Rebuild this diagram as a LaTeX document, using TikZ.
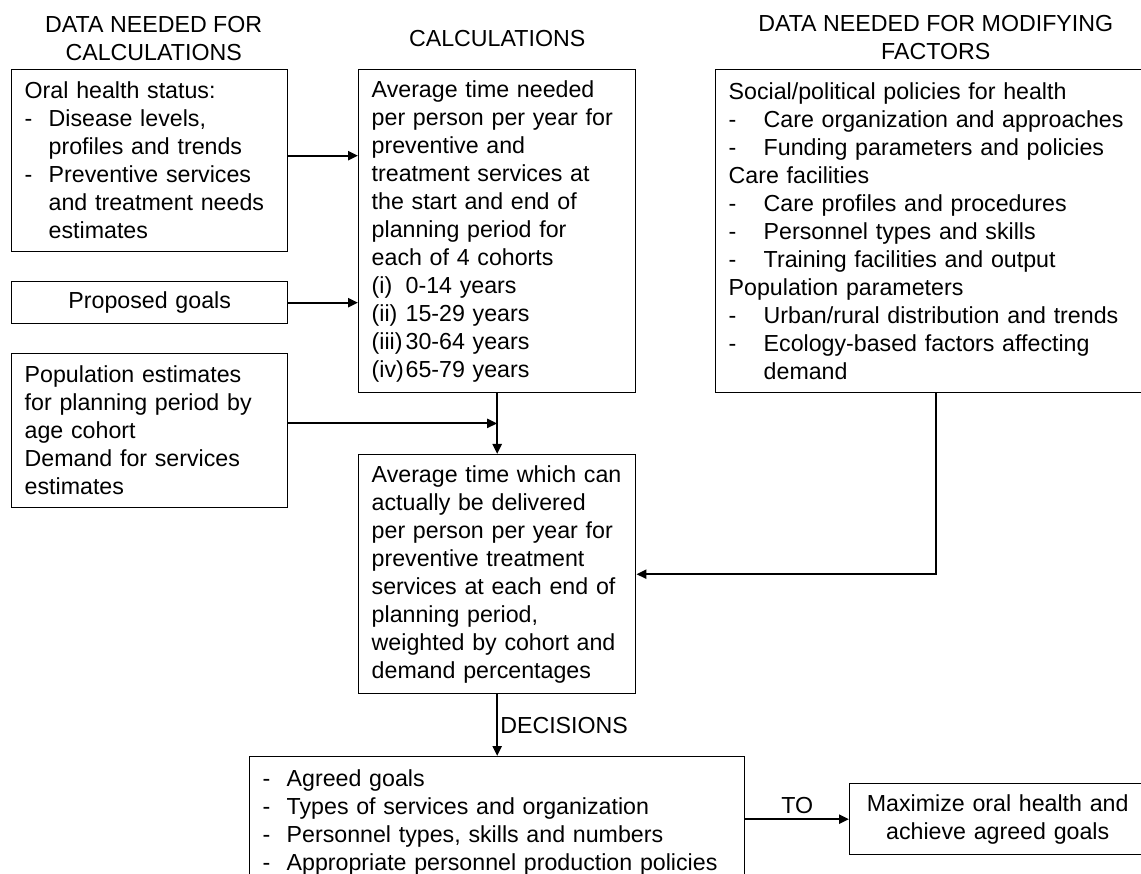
\documentclass[tikz,border=0pt]{standalone}
\usepackage{fontspec}
\setmainfont{Liberation Sans}
\usepackage{tikz}
\usetikzlibrary{arrows.meta}
\usetikzlibrary{positioning}

\newcommand{\bodyfont}{\fontsize{23.2}{28}\selectfont}
\newcommand{\litem}[2][24pt]{\makebox[#1][l]{-}#2}
\newcommand{\lcont}[1][24pt]{\hspace*{#1}}
\newcommand{\rnum}[1]{\makebox[34pt][l]{#1}}

\tikzset{
  box/.style={draw, line width=1.4pt, anchor=north west, align=left,
    inner xsep=13pt, inner ysep=0pt, font=\bodyfont},
  head/.style={align=center, inner sep=0pt, font=\bodyfont},
  arr/.style={line width=2.2pt, -{Triangle[length=10pt,width=9pt]}}
}

\begin{document}
\begin{tikzpicture}[x=1pt, y=-1pt]
        \useasboundingbox (0,0) rectangle (1141,874);
        % left column: input data
        \node (oral) [box, minimum width=276pt, minimum height=182pt, text width=250pt] at (11,69)
          {Oral health status:\\
           \litem{Disease levels,}\\
           \lcont profiles and trends\\
           \litem{Preventive services}\\
           \lcont and treatment needs\\
           \lcont estimates};
        \node (goals) [box, align=center, minimum width=276pt, minimum height=42pt, text width=250pt] at (11,281)
          {Proposed goals};
        \node (pop) [box, minimum width=276pt, minimum height=154pt, text width=250pt] at (11,353)
          {Population estimates\\
           for planning period by\\
           age cohort\\
           Demand for services\\
           estimates};
        % middle column: calculations
        \node (calc) [box, minimum width=277pt, minimum height=323pt, text width=251pt] at (358,69)
          {Average time needed\\
           per person per year for\\
           preventive and\\
           treatment services at\\
           the start and end of\\
           planning period for\\
           each of 4 cohorts\\
           \rnum{(i)}0-14 years\\
           \rnum{(ii)}15-29 years\\
           \rnum{(iii)}30-64 years\\
           \rnum{(iv)}65-79 years};
        \node (deliv) [box, minimum width=277pt, minimum height=239pt, text width=251pt] at (358,454)
          {Average time which can\\
           actually be delivered\\
           per person per year for\\
           preventive treatment\\
           services at each end of\\
           planning period,\\
           weighted by cohort and\\
           demand percentages};
        % right column: modifying factors
        \node (factors) [box, minimum width=440pt, minimum height=323pt, text width=414pt] at (715,69)
          {Social/political policies for health\\
           \litem[35pt]{Care organization and approaches}\\
           \litem[35pt]{Funding parameters and policies}\\
           Care facilities\\
           \litem[35pt]{Care profiles and procedures}\\
           \litem[35pt]{Personnel types and skills}\\
           \litem[35pt]{Training facilities and output}\\
           Population parameters\\
           \litem[35pt]{Urban/rural distribution and trends}\\
           \litem[35pt]{Ecology-based factors affecting}\\
           \lcont[35pt]demand};
        % bottom row: decisions
        \node (decide) [box, minimum width=495pt, minimum height=131pt, text width=469pt] at (249,756)
          {\litem{Agreed goals}\\
           \litem{Types of services and organization}\\
           \litem{Personnel types, skills and numbers}\\
           \litem{Appropriate personnel production policies}};
        \node (maxim) [box, align=center, minimum width=296pt, minimum height=71pt, text width=270pt] at (849,783)
          {Maximize oral health and\\ achieve agreed goals};
        % column headings
        \node (hdata) [head, above=8pt of oral, xshift=4pt] {DATA NEEDED FOR\\ CALCULATIONS};
        \node (hcalc) [head, above=22pt of calc] {CALCULATIONS};
        \node (hfact) [head, above=9pt of factors] {DATA NEEDED FOR MODIFYING\\ FACTORS};
        % connectors
        \coordinate [below=30pt of calc.south] (join);
        \draw [arr] ([yshift=5pt]oral.east) -- ([yshift=5pt]oral.east -| calc.west);
        \draw [arr] (goals.east) -- (goals.east -| calc.west);
        \draw [arr] (join -| pop.east) -- (join);
        \draw [arr] (calc.south) -- (deliv.north);
        \draw [arr] (factors.south) |- (deliv.east);
        \draw [arr] (deliv.south) -- node [right, inner sep=2pt, font=\bodyfont] {DECISIONS} (deliv.south |- decide.north);
        \draw [arr] (maxim.west -| decide.east) -- node [above, inner sep=4pt, font=\bodyfont] {TO} (maxim.west);
\end{tikzpicture}
\end{document}
